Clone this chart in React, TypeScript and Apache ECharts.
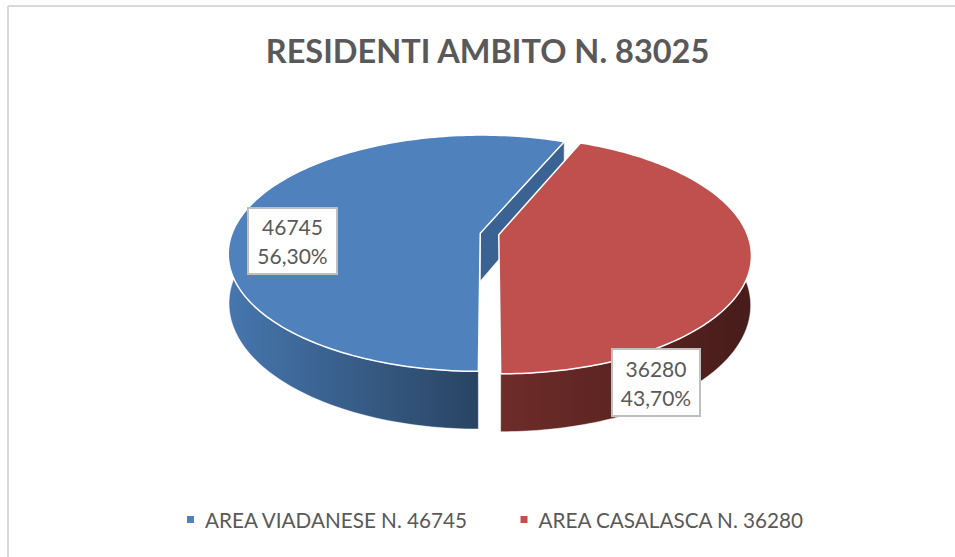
import React, { useEffect, useRef } from "react";
import * as echarts from "echarts";

const chartTitle = "RESIDENTI AMBITO N. 83025";
const areaNames = ["AREA VIADANESE N. 46745", "AREA CASALASCA N. 36280"];
const residents = [46745, 36280];
const topColors = ["#4F81BD", "#C0504D"];
const wallStops = [["#4676AE", "#294463"], ["#6E2C29", "#471C1A"]];
const cutFaceColors = ["#3A6393", "#6E2C29"];
const firstSliceAngle = 180;

const FONT = "Lato, 'Open Sans', sans-serif";
const TEXT = "#595959";
const total = residents.reduce((a, b) => a + b, 0);

// Perspective of the disc
const CX = 489.5, CY = 234, A = 248.4, B = 115, K = 0.17, DEPTH = 48, EXPLODE = 0.038, BOTTOM_SCALE = 0.997;

function project(u: number, v: number, lower: boolean): number[] {
  const w = 1 + K * v;
  const s = lower ? BOTTOM_SCALE : 1;
  return [CX + (s * A * u) / w, CY - (B * v) / w + (lower ? DEPTH / w : 0)];
}

const labelBoxes = [
  { x: 248, y: 208, w: 89, h: 66 },
  { x: 612, y: 349, w: 88, h: 67 },
];

function sliceRenderer(index: number) {
  return (_params: any, api: any) => {
    const value = api.value(0);
    const before = residents.slice(0, index).reduce((a, b) => a + b, 0);
    const deg = Math.PI / 180;
    const start = (firstSliceAngle + (before / total) * 360) * deg;
    const sweep = (value / total) * 2 * Math.PI;
    const mid = start + sweep / 2;
    const ou = EXPLODE * Math.sin(mid);
    const ov = EXPLODE * Math.cos(mid);
    const N = 160;
    const rim: number[][] = [];
    for (let i = 0; i <= N; i++) {
      const t = start + (sweep * i) / N;
      rim.push([Math.sin(t) + ou, Math.cos(t) + ov]);
    }
    const top = rim.map((p) => project(p[0], p[1], false));
    const apexTop = project(ou, ov, false);
    const apexLow = project(ou, ov, true);

    // front-facing part of the outer wall
    const front = rim.filter((p) => p[1] - ov < K);
    const wall = [
      ...front.map((p) => project(p[0], p[1], false)),
      ...front.slice().reverse().map((p) => project(p[0], p[1], true)),
    ];

    const last = rim[N];
    const children: any[] = [];
    children.push({
      type: "polygon",
      shape: { points: wall },
      style: {
        fill: new echarts.graphic.LinearGradient(0, 0, 1, 0, [
          { offset: 0, color: wallStops[index][0] },
          { offset: 1, color: wallStops[index][1] },
        ]),
        stroke: "#FFFFFF",
        lineWidth: 0.5,
      },
    });
    if (index === 0) {
      children.push({
        type: "polygon",
        shape: {
          points: [apexTop, project(last[0], last[1], false), project(last[0], last[1], true), apexLow],
        },
        style: { fill: cutFaceColors[index], stroke: "#FFFFFF", lineWidth: 0.5 },
      });
    }
    children.push({
      type: "polygon",
      shape: { points: [apexTop, ...top] },
      style: { fill: topColors[index], stroke: "#FFFFFF", lineWidth: 1.5, lineJoin: "round" },
    });
    const box = labelBoxes[index];
    const pct = ((value / total) * 100).toFixed(2).replace(".", ",") + "%";
    children.push({
      type: "rect",
      shape: { x: box.x, y: box.y, width: box.w, height: box.h },
      style: { fill: "#FFFFFF", stroke: "#BFBFBF", lineWidth: 2 },
    });
    children.push({
      type: "text",
      x: box.x + box.w / 2,
      y: box.y + box.h / 2,
      style: {
        text: `${value}\n${pct}`,
        fill: TEXT,
        font: `21px ${FONT}`,
        align: "center",
        verticalAlign: "middle",
        lineHeight: 29,
      },
    });
    return { type: "group", children };
  };
}

export default function App() {
  const ref = useRef<HTMLDivElement>(null);
  useEffect(() => {
    const chart = echarts.init(ref.current!, undefined, { renderer: "svg" });
    chart.setOption({
      animation: false,
      backgroundColor: "#FFFFFF",
      title: {
        text: chartTitle,
        left: 482.5,
        textAlign: "center",
        top: 29,
        textStyle: { color: TEXT, fontFamily: FONT, fontSize: 32.5, fontWeight: "bold" },
      },
      legend: {
        left: 182,
        top: 504,
        icon: "rect",
        itemWidth: 7,
        itemHeight: 7,
        itemGap: 52,
        data: areaNames,
        textStyle: { color: TEXT, fontFamily: FONT, fontSize: 20.7, padding: [0, 0, 0, 6] },
      },
      graphic: [
        { type: "line", shape: { x1: 8, y1: 6, x2: 955, y2: 6 }, style: { stroke: "#D9D9D9", lineWidth: 2 } },
        { type: "line", shape: { x1: 8, y1: 6, x2: 8, y2: 557 }, style: { stroke: "#D9D9D9", lineWidth: 2 } },
      ],
      series: residents.map((v, i) => ({
        type: "custom",
        name: areaNames[i],
        coordinateSystem: "none",
        itemStyle: { color: topColors[i] },
        renderItem: sliceRenderer(i),
        data: [[v]],
        silent: true,
      })),
    });
    return () => chart.dispose();
  }, []);
  return <div ref={ref} style={{ position: "fixed", left: 0, top: 0, width: 955, height: 557 }} />;
}
